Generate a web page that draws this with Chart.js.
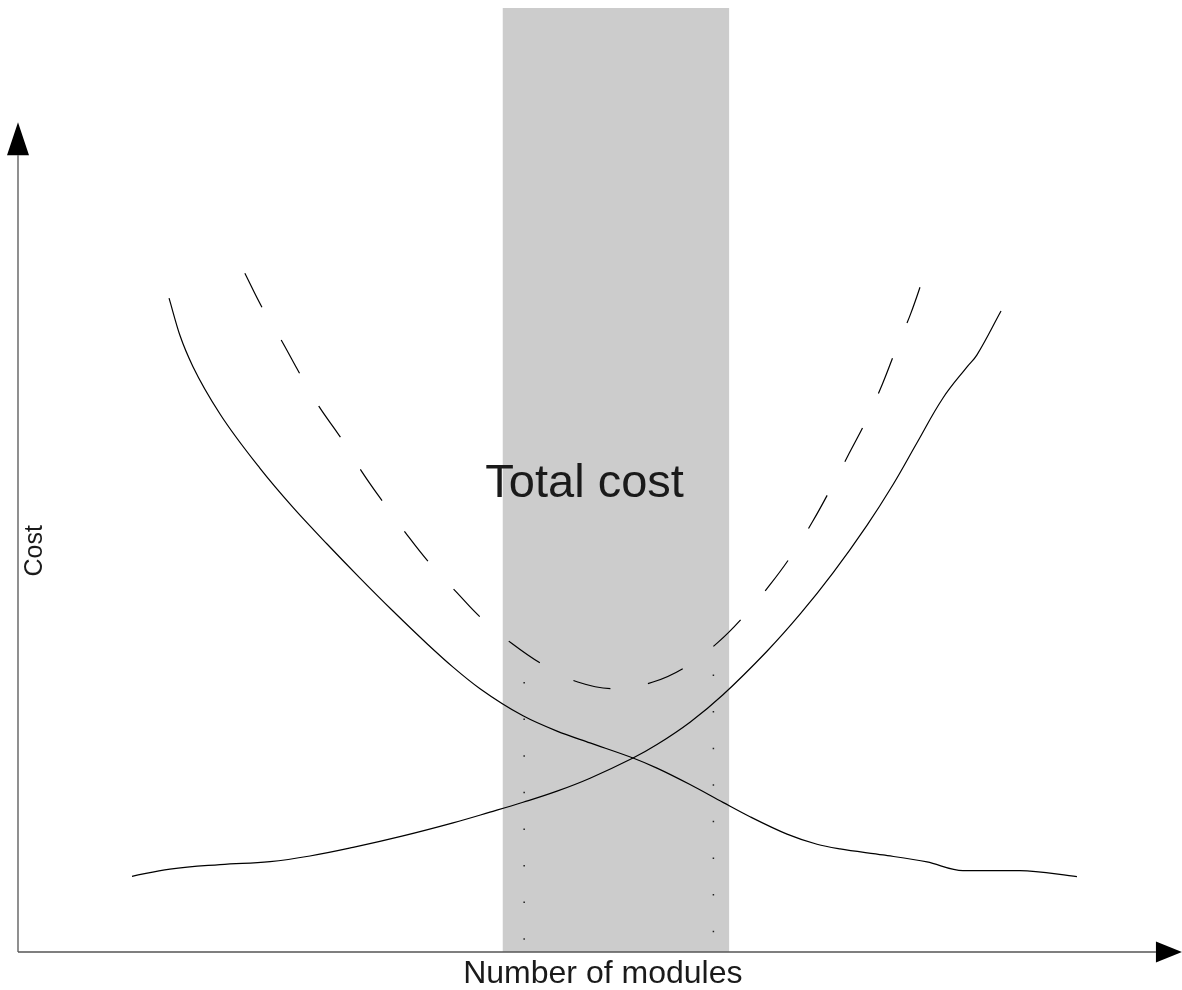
<!DOCTYPE html>
<html>
<head>
<meta charset="utf-8">
<script src="https://cdn.jsdelivr.net/npm/chart.js@4/dist/chart.umd.min.js"></script>
<style>
  html, body { margin: 0; padding: 0; background: #ffffff; }
  #wrap { position: relative; width: 1182px; height: 990px; }
</style>
</head>
<body>
<div id="wrap"><canvas id="c"></canvas></div>
<script>
// ---- Data (modules on x, cost on y, arbitrary units 0..100) ----
const fixedModules = [13.25, 14.21, 15.35, 17.72, 21.23, 24.12, 27.11, 30.00, 32.89, 35.88, 38.16, 40.53, 44.30, 47.28, 50.18, 53.95, 56.05, 58.95, 61.84, 64.21, 67.46, 70.09, 72.11, 75.88, 79.74, 82.89, 87.89, 92.89];
const fixedCost    = [69.26, 65.30, 62.00, 56.99, 51.23, 47.10, 43.22, 39.61, 36.12, 32.66, 30.18, 27.89, 25.02, 23.40, 22.15, 20.55, 19.48, 17.74, 15.85, 14.33, 12.49, 11.41, 10.92, 10.28, 9.54, 8.62, 8.62, 7.99];

const variableModules = [10.00, 13.33, 17.72, 22.11, 25.61, 29.39, 33.77, 38.16, 41.40, 44.30, 47.28, 50.18, 53.95, 56.05, 58.95, 61.84, 65.70, 68.60, 71.49, 74.47, 76.75, 78.86, 81.14, 83.25, 84.12, 86.23];
const variableCost    = [8.02, 8.78, 9.26, 9.58, 10.17, 11.08, 12.30, 13.68, 14.81, 15.86, 17.04, 18.41, 20.55, 21.97, 24.34, 27.25, 31.86, 35.78, 40.16, 45.20, 49.50, 53.95, 58.69, 61.99, 63.26, 67.91];

const totalModules = [19.9, 21.4, 23.1, 24.7, 26.4, 28.3, 30.1, 32.0, 34.0, 36.1, 38.4, 40.7, 43.3, 46.1, 49.1, 52.4, 55.7, 58.7, 61.4, 63.7, 65.9, 67.9, 69.7, 71.3, 72.9, 74.4, 75.8, 77.0, 78.3, 79.4];
const totalCost    = [71.9, 68.3, 64.8, 61.3, 57.8, 54.5, 51.0, 47.7, 44.4, 41.2, 38.2, 35.3, 32.7, 30.4, 28.6, 27.9, 28.6, 30.3, 32.8, 35.6, 38.8, 42.1, 45.6, 49.1, 52.8, 56.3, 60.1, 63.8, 67.6, 71.4];

const bandModules = [42.5, 62.4];
const bandCost    = [100, 100];

const boundLeftModules  = [44.4, 44.4];
const boundLeftCost     = [28.6, 0];
const boundRightModules = [61.0, 61.0];
const boundRightCost    = [29.4, 0];

const xAxisEnd = 102.1;   // arrow tip on modules axis
const yAxisEnd = 87.9;    // arrow tip on cost axis

const titleText  = 'Total cost';
const titleAt    = [49.7, 48.2];
const xTitleText = 'Number of modules';
const yTitleText = 'Cost';

function pts(xs, ys) { return xs.map((x, i) => ({ x: x, y: ys[i] })); }

const decor = {
  id: 'decor',
  afterDatasetsDraw(chart) {
    const ctx = chart.ctx;
    const sx = chart.scales.x, sy = chart.scales.y;
    const x0 = sx.getPixelForValue(0), y0 = sy.getPixelForValue(0);
    const xTip = sx.getPixelForValue(xAxisEnd);
    const yTip = sy.getPixelForValue(yAxisEnd);
    const head = 33, half = 11;
    ctx.save();
    // axis lines
    ctx.strokeStyle = '#555555';
    ctx.lineWidth = 1.3;
    ctx.beginPath();
    ctx.moveTo(x0, y0); ctx.lineTo(x0, yTip + head);
    ctx.moveTo(x0, y0); ctx.lineTo(xTip - 26, y0);
    ctx.stroke();
    // arrow heads
    ctx.fillStyle = '#000000';
    ctx.beginPath();
    ctx.moveTo(x0, yTip); ctx.lineTo(x0 - half, yTip + head); ctx.lineTo(x0 + half, yTip + head); ctx.closePath();
    ctx.fill();
    ctx.beginPath();
    ctx.moveTo(xTip, y0); ctx.lineTo(xTip - 26, y0 - 10.5); ctx.lineTo(xTip - 26, y0 + 10.5); ctx.closePath();
    ctx.fill();
    // texts
    ctx.fillStyle = '#1a1a1a';
    ctx.textAlign = 'center';
    ctx.textBaseline = 'alphabetic';
    ctx.font = '47px "Liberation Sans", Arial, sans-serif';
    ctx.fillText(titleText, sx.getPixelForValue(titleAt[0]), sy.getPixelForValue(titleAt[1]));
    ctx.font = '32px "Liberation Sans", Arial, sans-serif';
    ctx.fillText(xTitleText, sx.getPixelForValue(51.3), y0 + 31);
    ctx.save();
    ctx.translate(x0 + 24, sy.getPixelForValue(42.5));
    ctx.rotate(-Math.PI / 2);
    ctx.font = '25px "Liberation Sans", Arial, sans-serif';
    ctx.fillText(yTitleText, 0, 0);
    ctx.restore();
    ctx.restore();
  }
};

new Chart(document.getElementById('c'), {
  type: 'line',
  data: {
    datasets: [
      { data: pts(fixedModules, fixedCost), borderColor: '#000', borderWidth: 1.2, pointRadius: 0, cubicInterpolationMode: 'monotone', fill: false, order: 1 },
      { data: pts(variableModules, variableCost), borderColor: '#000', borderWidth: 1.2, pointRadius: 0, tension: 0.4, fill: false, order: 1 },
      { data: pts(totalModules, totalCost), borderColor: '#000', borderWidth: 1.2, borderDash: [38, 38], pointRadius: 0, tension: 0.4, fill: false, order: 1 },
      { data: pts(boundLeftModules, boundLeftCost), borderColor: '#222', borderWidth: 1.5, borderDash: [1.5, 35.1], pointRadius: 0, fill: false, order: 2 },
      { data: pts(boundRightModules, boundRightCost), borderColor: '#222', borderWidth: 1.5, borderDash: [1.5, 35.1], pointRadius: 0, fill: false, order: 2 },
      { data: pts(bandModules, bandCost), borderWidth: 0, borderColor: 'rgba(0,0,0,0)', backgroundColor: '#cccccc', pointRadius: 0, fill: 'origin', order: 10 }
    ]
  },
  options: {
    responsive: true,
    maintainAspectRatio: false,
    animation: false,
    events: [],
    layout: { padding: { left: 18, right: 24, top: 8, bottom: 38 } },
    plugins: { legend: { display: false }, tooltip: { enabled: false }, title: { display: false } },
    scales: {
      x: { type: 'linear', min: 0, max: 100, display: false },
      y: { type: 'linear', min: 0, max: 100, display: false }
    }
  },
  plugins: [decor]
});
</script>
</body>
</html>
